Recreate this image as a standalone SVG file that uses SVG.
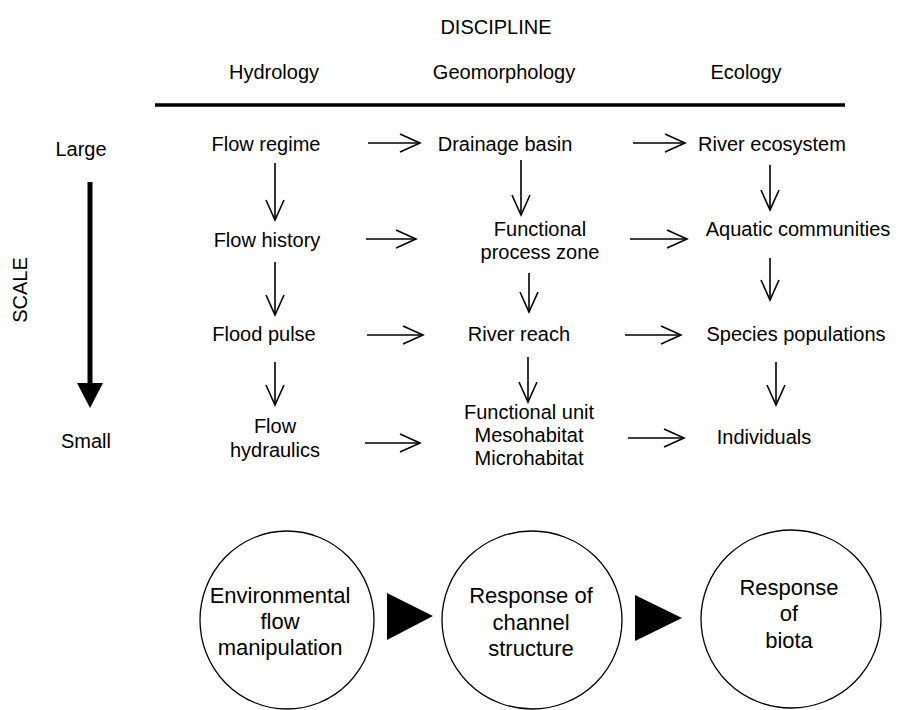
<svg xmlns="http://www.w3.org/2000/svg" width="900" height="710" viewBox="0 0 900 710">
<style>
text{font-family:"Liberation Sans",Arial,sans-serif;font-size:20px;fill:#000;text-anchor:middle}
.c text{font-size:22px}
.arr{stroke:#000;stroke-width:1.6;fill:none;marker-end:url(#v)}
.circ{fill:#fff;stroke:#000;stroke-width:1.3}
</style>
<defs>
<marker id="v" viewBox="-22 -11 24 22" refX="0" refY="0" markerWidth="24" markerHeight="22" orient="auto" markerUnits="userSpaceOnUse">
<path d="M-20,-9 L0,0 L-20,9" fill="none" stroke="#000" stroke-width="1.6"/>
</marker>
</defs>
<rect width="900" height="710" fill="#fff"/>
<g id="header">
<text x="496" y="34">DISCIPLINE</text>
<text x="274" y="79">Hydrology</text>
<text x="504" y="79">Geomorphology</text>
<text x="746" y="79">Ecology</text>
<line x1="155" y1="105" x2="845" y2="105" stroke="#000" stroke-width="3.5"/>
</g>
<g id="scale">
<text x="81" y="156">Large</text>
<text x="86" y="448">Small</text>
<text transform="translate(27,290) rotate(-90)" x="0" y="0">SCALE</text>
<line x1="90" y1="182" x2="90" y2="385" stroke="#000" stroke-width="5"/>
<polygon points="77,383 103,383 90,408" fill="#000"/>
</g>
<g id="flow-regime"><text x="266" y="151">Flow regime</text></g>
<g id="drainage-basin"><text x="505" y="151">Drainage basin</text></g>
<g id="river-ecosystem"><text x="772" y="151">River ecosystem</text></g>
<g id="flow-history"><text x="267" y="247">Flow history</text></g>
<g id="functional-process-zone"><text x="540" y="236">Functional</text><text x="540" y="259">process zone</text></g>
<g id="aquatic-communities"><text x="798" y="236">Aquatic communities</text></g>
<g id="flood-pulse"><text x="264" y="341">Flood pulse</text></g>
<g id="river-reach"><text x="519" y="341">River reach</text></g>
<g id="species-populations"><text x="796" y="341">Species populations</text></g>
<g id="flow-hydraulics"><text x="275" y="433">Flow</text><text x="275" y="457">hydraulics</text></g>
<g id="functional-unit"><text x="529" y="419">Functional unit</text><text x="529" y="442">Mesohabitat</text><text x="529" y="465">Microhabitat</text></g>
<g id="individuals"><text x="764" y="444">Individuals</text></g>
<g id="connectors">
<line class="arr" x1="368" y1="143" x2="420" y2="143"/>
<line class="arr" x1="633" y1="143" x2="685" y2="143"/>
<line class="arr" x1="366" y1="239" x2="416" y2="239"/>
<line class="arr" x1="630" y1="239" x2="687" y2="239"/>
<line class="arr" x1="367" y1="335" x2="423" y2="335"/>
<line class="arr" x1="625" y1="335" x2="681" y2="335"/>
<line class="arr" x1="365" y1="443" x2="420" y2="443"/>
<line class="arr" x1="628" y1="438" x2="684" y2="438"/>
<line class="arr" x1="275" y1="163" x2="275" y2="220"/>
<line class="arr" x1="275" y1="262" x2="275" y2="315"/>
<line class="arr" x1="275" y1="362" x2="275" y2="405"/>
<line class="arr" x1="521" y1="160" x2="521" y2="215"/>
<line class="arr" x1="529" y1="273" x2="529" y2="312"/>
<line class="arr" x1="528" y1="357" x2="528" y2="402"/>
<line class="arr" x1="770" y1="165" x2="770" y2="210"/>
<line class="arr" x1="770" y1="258" x2="770" y2="300"/>
<line class="arr" x1="776" y1="362" x2="776" y2="405"/>
<polygon points="387,593 387,640 433,616" fill="#000"/>
<polygon points="635,595 635,641 682,618" fill="#000"/>
</g>
<g id="env-flow" class="c">
<ellipse class="circ" cx="287" cy="620" rx="87" ry="89"/>
<text x="280" y="603">Environmental</text><text x="280" y="629">flow</text><text x="280" y="655">manipulation</text>
</g>
<g id="channel-response" class="c">
<ellipse class="circ" cx="532" cy="620" rx="90" ry="89"/>
<text x="531" y="603">Response of</text><text x="531" y="630">channel</text><text x="531" y="656">structure</text>
</g>
<g id="biota-response" class="c">
<ellipse class="circ" cx="791" cy="619" rx="90" ry="89"/>
<text x="789" y="595">Response</text><text x="789" y="621">of</text><text x="789" y="648">biota</text>
</g>
</svg>
